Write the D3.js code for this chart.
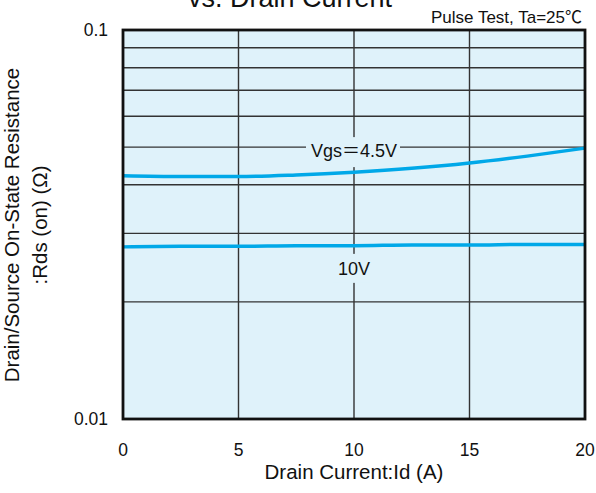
<!DOCTYPE html>
<html>
<head>
<meta charset="utf-8">
<script src="https://cdn.jsdelivr.net/npm/d3@7"></script>
<style>
  body { margin: 0; background: #fff; }
  text { font-family: "Liberation Sans", Arial, sans-serif; fill: #111; }
</style>
</head>
<body>
<div id="chart"></div>
<script>
// Chart data
const currents = [0, 2.5, 5, 7.5, 10, 12.5, 15, 17.5, 20];
const rdsVgs45 = [0.0422, 0.0420, 0.0420, 0.0424, 0.0431, 0.0441, 0.0455, 0.0474, 0.0497];
const rdsVgs10 = [0.0277, 0.0278, 0.0278, 0.0279, 0.0279, 0.0280, 0.0280, 0.0281, 0.0281];
const xTicks = [0, 5, 10, 15, 20];
const yTickLabels = [0.01, 0.1];
const yGrid = [0.02, 0.03, 0.04, 0.05, 0.06, 0.07, 0.08, 0.09];

const width = 596;
const height = 493;
const margin = { top: 30, right: 11, bottom: 74, left: 123 };
const bg = "#dff2fa";
const blue = "#00a8e8";

const svg = d3.select("#chart").append("svg")
    .attr("width", width)
    .attr("height", height);

const x = d3.scaleLinear().domain([0, 20]).range([margin.left, width - margin.right]);
const y = d3.scaleLog().domain([0.01, 0.1]).range([height - margin.bottom, margin.top]);

// plot background
svg.append("rect")
    .attr("x", x(0)).attr("y", y(0.1))
    .attr("width", x(20) - x(0)).attr("height", y(0.01) - y(0.1))
    .attr("fill", bg);

// grid
svg.append("g")
    .selectAll("line")
    .data(yGrid)
    .enter().append("line")
    .attr("x1", x(0)).attr("x2", x(20))
    .attr("y1", d => y(d)).attr("y2", d => y(d))
    .attr("stroke", "#333").attr("stroke-width", 1.4);

svg.append("g")
    .selectAll("line")
    .data(xTicks.slice(1, -1))
    .enter().append("line")
    .attr("x1", d => x(d)).attr("x2", d => x(d))
    .attr("y1", y(0.1)).attr("y2", y(0.01))
    .attr("stroke", "#333").attr("stroke-width", 1.4);

// masks behind curve labels
svg.append("rect").attr("x", 306).attr("y", y(0.05) - 10).attr("width", 94).attr("height", 30).attr("fill", bg);
svg.append("rect").attr("x", 333).attr("y", y(0.0277) + 7).attr("width", 37).attr("height", 29).attr("fill", bg);

// curves
const line = d3.line()
    .x((d, i) => x(currents[i]))
    .y(d => y(d))
    .curve(d3.curveMonotoneX);

[rdsVgs45, rdsVgs10].forEach(s => {
    svg.append("path")
        .attr("d", line(s))
        .attr("fill", "none")
        .attr("stroke", blue)
        .attr("stroke-width", 3.5);
});

// curve labels
const vgs = svg.append("text")
    .attr("x", x(10)).attr("y", y(0.05) + 10)
    .attr("text-anchor", "middle")
    .attr("font-size", 18);
vgs.append("tspan").text("Vgs");
vgs.append("tspan").style("font-family", "'Noto Sans CJK JP'").text("＝");
vgs.append("tspan").text("4.5V");

svg.append("text")
    .attr("x", x(10)).attr("y", y(0.0277) + 28)
    .attr("text-anchor", "middle")
    .attr("font-size", 18)
    .text("10V");

// frame
svg.append("rect")
    .attr("x", x(0)).attr("y", y(0.1))
    .attr("width", x(20) - x(0)).attr("height", y(0.01) - y(0.1))
    .attr("fill", "none")
    .attr("stroke", "#111").attr("stroke-width", 2.8);

// tick labels
svg.append("g")
    .selectAll("text")
    .data(xTicks)
    .enter().append("text")
    .attr("x", d => x(d)).attr("y", 456)
    .attr("text-anchor", "middle")
    .attr("font-size", 17.5)
    .text(d => d);

svg.append("g")
    .selectAll("text")
    .data(yTickLabels)
    .enter().append("text")
    .attr("x", 108).attr("y", d => y(d) + 6)
    .attr("text-anchor", "end")
    .attr("font-size", 17.5)
    .text(d => d);

// axis titles
svg.append("text")
    .attr("x", (x(0) + x(20)) / 2).attr("y", 479)
    .attr("text-anchor", "middle")
    .attr("font-size", 20.5)
    .text("Drain Current:Id (A)");

const yl = svg.append("text")
    .attr("transform", "translate(0,225) rotate(-90)")
    .attr("text-anchor", "middle")
    .attr("font-size", 20.5);
yl.append("tspan").attr("x", 0).attr("y", 19).text("Drain/Source On-State Resistance");
yl.append("tspan").attr("x", 0).attr("y", 47).text(":Rds (on) (Ω)");

// title (top cut off in the original) and conditions
svg.append("text")
    .attr("x", 290).attr("y", 7)
    .attr("text-anchor", "middle")
    .attr("font-size", 27)
    .text("vs. Drain Current");

const cond = svg.append("text")
    .attr("x", 582).attr("y", 23)
    .attr("text-anchor", "end")
    .attr("font-size", 17);
cond.append("tspan").text("Pulse Test, Ta=25");
cond.append("tspan").style("font-family", "'Noto Sans CJK JP'").text("℃");
</script>
</body>
</html>
